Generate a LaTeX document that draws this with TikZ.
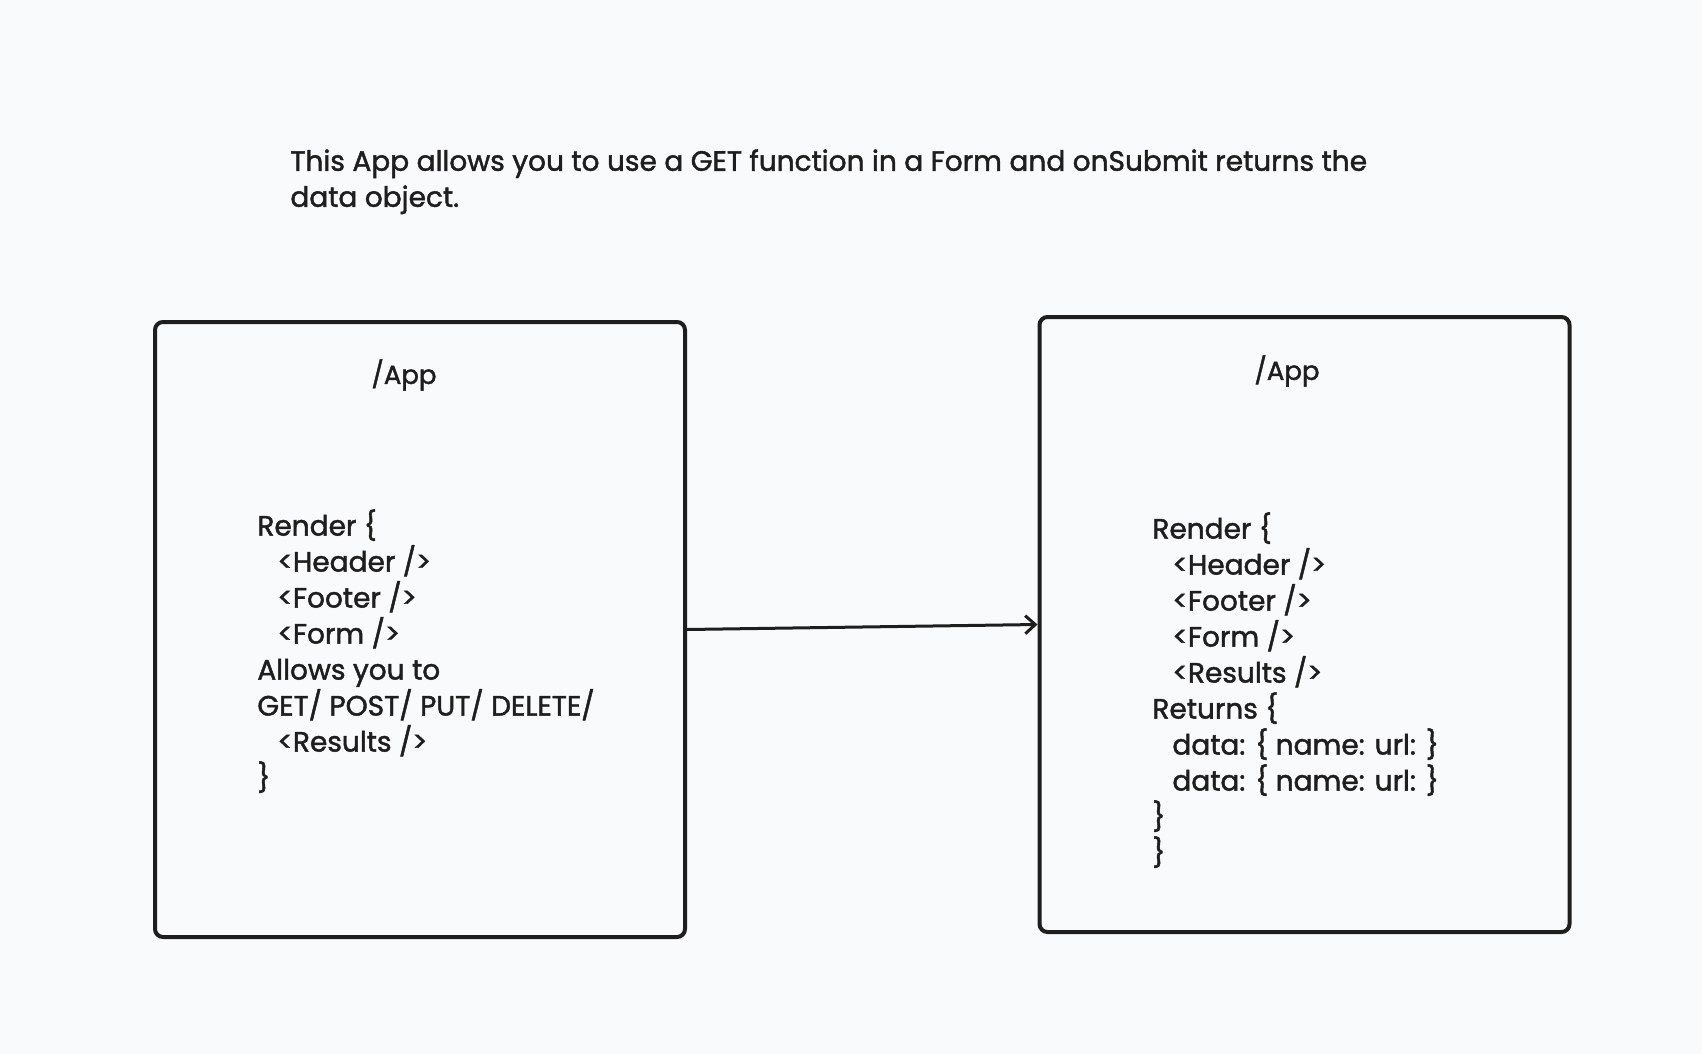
\documentclass[tikz,border=0pt]{standalone}
\usepackage{fontspec}
\setmainfont{Poppins}[FakeBold=1.6]
\usetikzlibrary{arrows.meta, positioning}
\definecolor{bgc}{RGB}{249,250,251}
\definecolor{ink}{RGB}{30,30,30}
\newcommand{\ind}{\hspace*{10pt}}

\begin{document}
\begin{tikzpicture}[x=0.5pt,y=-0.5pt, every node/.style={font=\fontsize{14}{18}\selectfont, text=ink},
    appbox/.style={draw=ink, line width=2pt, rounded corners=4pt, minimum width=265pt, minimum height=307.5pt, inner sep=0pt},
    codetext/.style={align=left, anchor=north west, inner sep=0pt}]
    \fill[bgc] (0,0) rectangle (1702,1054);
    \useasboundingbox (0,0) rectangle (1702,1054);

    \node[codetext] (intro) at (290,149) {This App allows you to use a GET function in a Form and onSubmit returns the\\data object.};

    % the two app boxes
    \node[appbox] (appL) at (420,629.5) {};
    \node[appbox] (appR) at (1304.5,624.5) {};

    \node[font=\fontsize{13}{18}\selectfont] (titleL) at (404,375) {/App};
    \node[font=\fontsize{13}{18}\selectfont] (titleR) at (1287,371) {/App};

    \node[codetext] (codeL) at (257,509) {Render \{\\
        \ind<Header />\\
        \ind<Footer />\\
        \ind<Form />\\
        Allows you to\\
        GET/ POST/ PUT/ DELETE/\\
        \ind<Results />\\
        \}};
    \node[codetext] (codeR) at (1152,512) {Render \{\\
        \ind<Header />\\
        \ind<Footer />\\
        \ind<Form />\\
        \ind<Results />\\
        Returns \{\\
        \ind data: \{ name: url: \}\\
        \ind data: \{ name: url: \}\\
        \}\\
        \}};

    \draw[ink, line width=1.5pt, -{Straight Barb[length=5pt,width=9pt]}] (appL.east) -- (appR.west);
\end{tikzpicture}
\end{document}
